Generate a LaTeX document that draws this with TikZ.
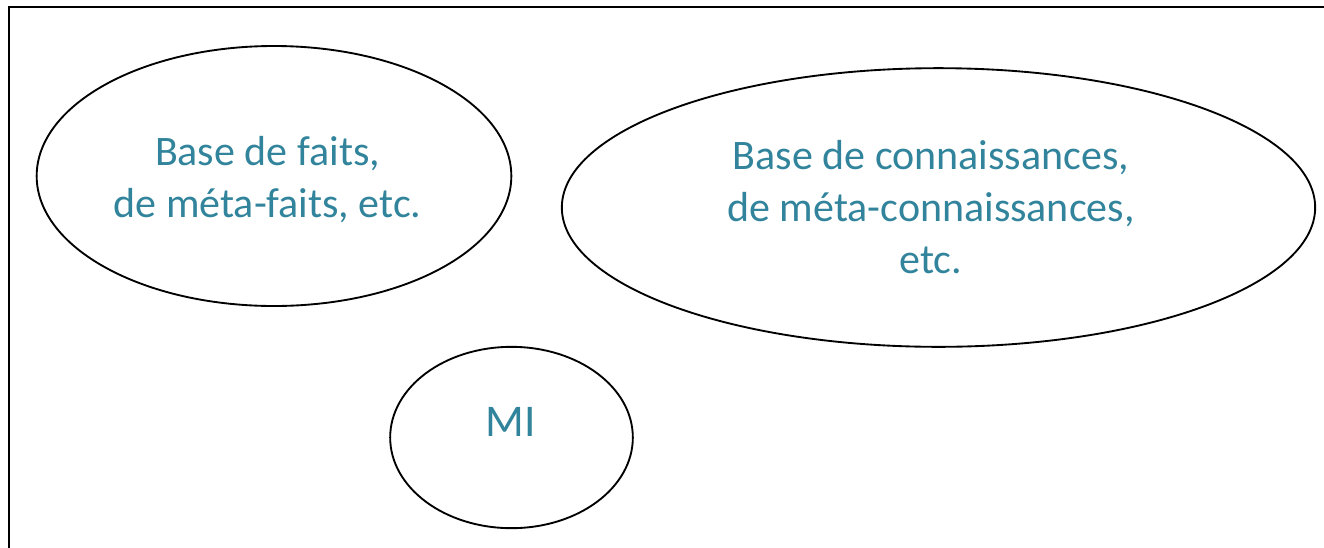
\documentclass[tikz,border=0pt]{standalone}
\usepackage{fontspec}
\setmainfont{Carlito}
\usetikzlibrary{shapes.geometric}

\definecolor{basetext}{RGB}{49,132,155}

\tikzset{
  base/.style={ellipse, draw=black, line width=1.4pt, inner sep=0pt},
  basetxt/.style={text=basetext, align=center, inner sep=0pt,
    font=\fontsize{31.5}{39}\selectfont}
}

\begin{document}
\begin{tikzpicture}[x=0.75pt, y=-0.75pt]

  \useasboundingbox (0,0) rectangle (1324,547);
  \clip (0,0) rectangle (1324,547);

  % cadre
  \draw[line width=1.5pt] (9,560) -- (9,7) -- (1340,7);

  % bases
  \node [base, minimum width=356pt, minimum height=195pt] (bf) at (274,176) {};
  \node [base, minimum width=565pt, minimum height=209pt] (bc) at (938.5,207.5) {};
  \node [base, minimum width=182pt, minimum height=136pt] (mi) at (511.5,437.5) {};

  \node [basetxt] (bftext) at (267.5,179.5) {Base de faits,\\de méta-faits, etc.};
  \node [basetxt] (bctext) at (931,207) {Base de connaissances,\\de méta-connaissances,\\etc.};
  \node [basetxt, font=\fontsize{34}{40}\selectfont] (mitext) at (511,422) {MI};

\end{tikzpicture}
\end{document}
